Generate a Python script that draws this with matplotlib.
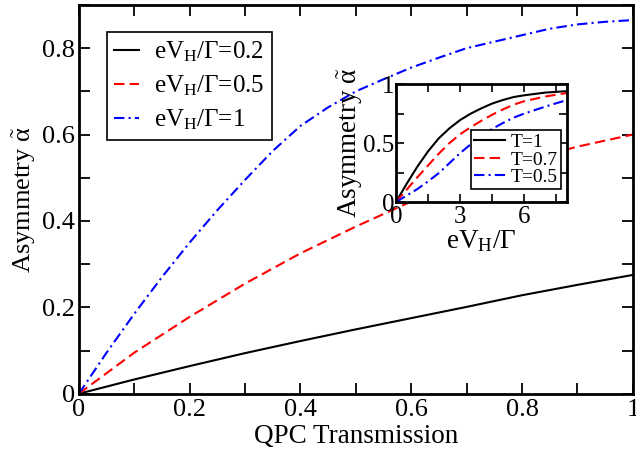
import matplotlib
matplotlib.use("Agg")
import matplotlib.pyplot as plt
from matplotlib.ticker import MultipleLocator, FuncFormatter

plt.rcParams['font.family'] = ['Liberation Serif', 'DejaVu Serif']
plt.rcParams['mathtext.fontset'] = 'custom'
plt.rcParams['mathtext.rm'] = 'Liberation Serif'
plt.rcParams['mathtext.it'] = 'Liberation Serif'

# main panel: asymmetry vs QPC transmission
trans = [0.0, 0.1, 0.2, 0.3, 0.4, 0.5, 0.6, 0.7, 0.8, 0.9, 1.0]
alpha_02 = [0.0, 0.033, 0.064, 0.094, 0.122, 0.149, 0.175, 0.201, 0.228, 0.252, 0.275]
alpha_05 = [0.0, 0.095, 0.178, 0.255, 0.325, 0.387, 0.445, 0.497, 0.537, 0.572, 0.600]
trans_b = [0.0, 0.05, 0.1, 0.15, 0.2, 0.25, 0.3, 0.35, 0.4, 0.45, 0.5,
           0.55, 0.6, 0.65, 0.7, 0.75, 0.8, 0.85, 0.9, 0.95, 1.0]
alpha_1 = [0.0, 0.095, 0.185, 0.27, 0.35, 0.425, 0.495, 0.562, 0.62, 0.663, 0.70,
           0.728, 0.755, 0.778, 0.80, 0.815, 0.83, 0.845, 0.855, 0.861, 0.865]

# inset: asymmetry vs eV_H/Gamma for several T
volt = [0, 0.5, 1, 1.5, 2, 2.5, 3, 3.5, 4, 4.5, 5, 5.5, 6, 7, 8]
alpha_t1 = [0, 0.155, 0.30, 0.43, 0.54, 0.625, 0.695, 0.75, 0.795, 0.835, 0.865, 0.89, 0.905, 0.928, 0.94]
alpha_t07 = [0, 0.105, 0.21, 0.31, 0.41, 0.50, 0.575, 0.635, 0.69, 0.74, 0.785, 0.825, 0.855, 0.895, 0.925]
alpha_t05 = [0, 0.055, 0.11, 0.175, 0.245, 0.33, 0.415, 0.49, 0.56, 0.62, 0.67, 0.715, 0.75, 0.81, 0.865]

labels_main = ['eV$_{\\mathrm{H}}$/\u0393=0.2', 'eV$_{\\mathrm{H}}$/\u0393=0.5', 'eV$_{\\mathrm{H}}$/\u0393=1']
labels_ins = ['T=1', 'T=0.7', 'T=0.5']
ylab = 'Asymmetry $\\tilde{\\alpha}$'

dashed = (0, (5, 2.5))
dashdot = (0, (5, 2, 1, 2))
fmt = FuncFormatter(lambda v, p: '%g' % round(v, 3))

fig = plt.figure(figsize=(6.36, 4.51), dpi=100)
ax = fig.add_axes([0.124, 0.127, 0.871, 0.862])

ax.plot(trans, alpha_02, color='black', lw=1.5, label=labels_main[0])
ax.plot(trans, alpha_05, color='red', lw=1.5, ls=dashed, label=labels_main[1])
ax.plot(trans_b, alpha_1, color='blue', lw=1.5, ls=dashdot, label=labels_main[2])

ax.set_xlim(0, 1)
ax.set_ylim(0, 0.9)
ax.xaxis.set_major_locator(MultipleLocator(0.2))
ax.xaxis.set_minor_locator(MultipleLocator(0.1))
ax.yaxis.set_major_locator(MultipleLocator(0.2))
ax.yaxis.set_minor_locator(MultipleLocator(0.1))
ax.xaxis.set_major_formatter(fmt)
ax.yaxis.set_major_formatter(fmt)
ax.tick_params(which='both', direction='in', top=True, right=True, length=8, width=1.3, labelsize=19)
ax.tick_params(axis='x', pad=4)
ax.tick_params(axis='y', pad=3)
for s in ax.spines.values():
    s.set_linewidth(2)
ax.set_xlabel('QPC Transmission', fontsize=19.5, labelpad=2)
ax.set_ylabel(ylab, fontsize=19, labelpad=3)

leg = ax.legend(loc='upper left', bbox_to_anchor=(0.05, 0.93), borderaxespad=0,
                fontsize=18, handlelength=1.0, handletextpad=0.6, labelspacing=0.38,
                fancybox=False, framealpha=1, edgecolor='black', borderpad=0.3)
leg.get_frame().set_linewidth(1.2)

# inset
ins = fig.add_axes([0.6226, 0.552, 0.269, 0.2616])
ins.plot(volt, alpha_t1, color='black', lw=1.5, label=labels_ins[0])
ins.plot(volt, alpha_t07, color='red', lw=1.5, ls=dashed, label=labels_ins[1])
ins.plot(volt, alpha_t05, color='blue', lw=1.5, ls=dashdot, label=labels_ins[2])
ins.set_xlim(0, 8)
ins.set_ylim(0, 1)
ins.xaxis.set_major_locator(MultipleLocator(3))
ins.xaxis.set_minor_locator(MultipleLocator(1.5))
ins.yaxis.set_major_locator(MultipleLocator(0.5))
ins.yaxis.set_minor_locator(MultipleLocator(0.25))
ins.xaxis.set_major_formatter(fmt)
ins.yaxis.set_major_formatter(fmt)
ins.tick_params(which='both', direction='in', top=True, right=True, length=6, width=1.2, labelsize=18)
ins.tick_params(axis='x', pad=3)
ins.tick_params(axis='y', pad=1)
for s in ins.spines.values():
    s.set_linewidth(2)
ins.set_xlabel('eV$_{\\mathrm{H}}$/\u0393', fontsize=19.5, labelpad=0)
ins.set_ylabel(ylab, fontsize=19.5, labelpad=-1)
leg2 = ins.legend(loc='lower right', bbox_to_anchor=(0.965, 0.11), borderaxespad=0,
                  fontsize=14, handlelength=1.6, handletextpad=0.3, labelspacing=0.0,
                  fancybox=False, framealpha=1, edgecolor='black', borderpad=0.15)
leg2.get_frame().set_linewidth(1.2)

fig.savefig('out.png', dpi=100)
